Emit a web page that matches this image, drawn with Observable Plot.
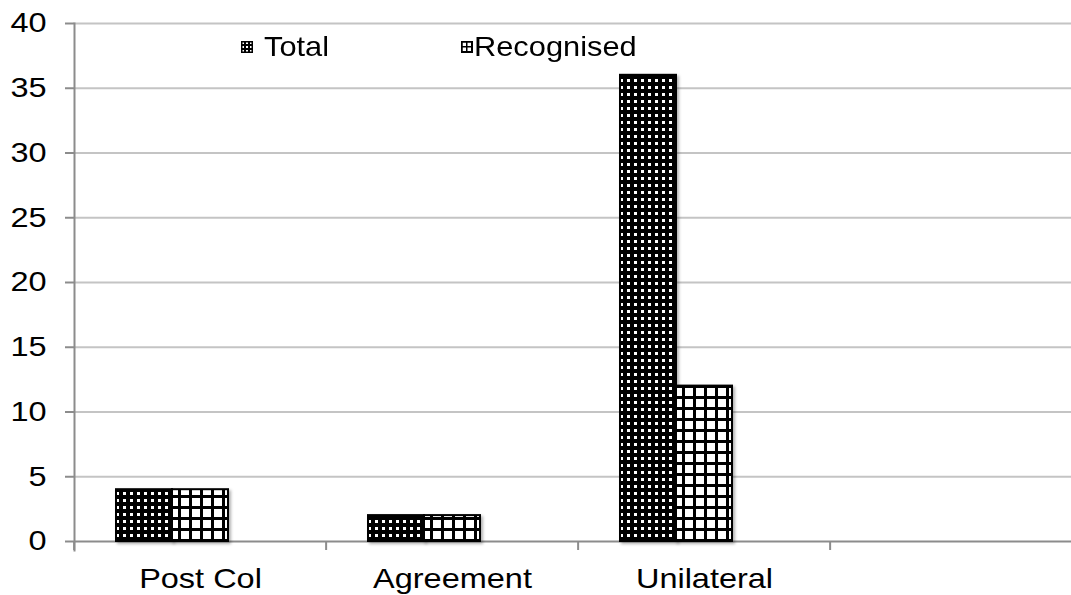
<!DOCTYPE html>
<html>
<head>
<meta charset="utf-8">
<script src="https://cdn.jsdelivr.net/npm/d3@7"></script>
<script src="https://cdn.jsdelivr.net/npm/@observablehq/plot@0.6"></script>
<style>
  html, body { margin: 0; padding: 0; background: #fff; overflow: hidden; }
  #wrap { position: relative; width: 1071px; height: 595px; }
  .legend-item { position: absolute; font: 28px "Liberation Sans", Arial, sans-serif; color: #000; line-height: 1; white-space: nowrap; }
  .legend-item svg { position: absolute; }
  .legend-item span { display: inline-block; transform: scaleX(1.1); transform-origin: left center; }
  .bar-shadow { filter: drop-shadow(2px 2px 1.5px rgba(0,0,0,0.3)); }
</style>
</head>
<body>
<div id="wrap"></div>
<script>
// ---- data ----
const categories = ["Post Col", "Agreement", "Unilateral", " "];
const seriesNames = ["Total", "Recognised"];
const totalValues = [4, 2, 36];
const recognisedValues = [4, 2, 12];
const yTicks = [0, 5, 10, 15, 20, 25, 30, 35, 40];

const patternIds = { Total: "pat-total", Recognised: "pat-recog" };
const seriesValues = { Total: totalValues, Recognised: recognisedValues };

const rows = [];
categories.forEach((c, i) => {
  seriesNames.forEach(s => {
    const v = seriesValues[s][i];
    if (v != null) rows.push({ category: c, series: s, value: v });
  });
});

// ---- layout ----
const W = 1071, H = 595;
const mL = 72, mR = -12, mT = 23, mB = 54;
const step = (W - mL - mR) / categories.length;
const axisGray = "#8c8c8c";
const gridGray = "#c4c4c4";
const font = '"Liberation Sans", Arial, sans-serif';
const textStretch = 1.16;

const barMarks = seriesNames.map(s =>
  Plot.barY(rows.filter(d => d.series === s), {
    fx: "category", x: "series", y: "value",
    fill: `url(#${patternIds[s]})`,
    stroke: "black", strokeWidth: 2,
    className: "bar-shadow"
  })
);

const plot = Plot.plot({
  width: W, height: H,
  marginLeft: mL, marginRight: mR, marginTop: mT, marginBottom: mB,
  style: { fontFamily: font, fontSize: "28px", background: "white", color: "black", overflow: "visible" },
  fx: { domain: categories, padding: 0, label: null },
  x: { domain: seriesNames, paddingInner: 0, paddingOuter: 1.236, align: 0.3, axis: null },
  y: { domain: [0, 40], label: null },
  marks: [
    Plot.gridY(yTicks.slice(1), { stroke: gridGray, strokeOpacity: 1, strokeWidth: 2 }),
    Plot.ruleY(categories, { fx: d => d, y: () => 0, stroke: axisGray, strokeWidth: 2 }),
    Plot.frame({ anchor: "left", facetAnchor: "left", stroke: axisGray, strokeWidth: 2, insetBottom: -9 }),
    ...barMarks,
    Plot.axisY(yTicks, { tickSize: 9, tickPadding: 19, stroke: axisGray, strokeWidth: 2, fill: "black", fontSize: 28, label: null }),
    Plot.axisFx({ anchor: "bottom", tickSize: 0, tickPadding: 27, fontSize: 28, fill: "black", label: null }),
    Plot.axisFx({ anchor: "bottom", tickSize: 9, tickFormat: () => "", stroke: axisGray, strokeWidth: 2, dx: -step / 2, label: null })
  ]
});

const svgEl = plot.tagName.toLowerCase() === "svg" ? plot : plot.querySelector("svg");
const svg = d3.select(svgEl);

// widen the glyphs slightly (reference uses a wider sans face)
svg.selectAll("text").each(function () {
  const t = this.getAttribute("transform") || "";
  this.setAttribute("transform", (t + ` scale(${textStretch},1)`).trim());
});

// patterns
const defs = svg.insert("defs", ":first-child");
const pt = defs.append("pattern").attr("id", "pat-total").attr("patternUnits", "userSpaceOnUse").attr("width", 7).attr("height", 7);
pt.append("rect").attr("width", 7).attr("height", 7).attr("fill", "black");
pt.append("rect").attr("x", 2).attr("y", 2).attr("width", 3).attr("height", 3).attr("fill", "white");
const pr = defs.append("pattern").attr("id", "pat-recog").attr("patternUnits", "userSpaceOnUse").attr("width", 11).attr("height", 11);
pr.append("rect").attr("width", 11).attr("height", 11).attr("fill", "white");
pr.append("rect").attr("width", 11).attr("height", 3).attr("fill", "black");
pr.append("rect").attr("width", 3).attr("height", 11).attr("fill", "black");
const lt = defs.append("pattern").attr("id", "pat-total-s").attr("patternUnits", "userSpaceOnUse").attr("width", 4).attr("height", 4);
lt.append("rect").attr("width", 4).attr("height", 4).attr("fill", "black");
lt.append("rect").attr("x", 1).attr("y", 1).attr("width", 2).attr("height", 2).attr("fill", "white");
const lr = defs.append("pattern").attr("id", "pat-recog-s").attr("patternUnits", "userSpaceOnUse").attr("width", 5).attr("height", 5);
lr.append("rect").attr("width", 5).attr("height", 5).attr("fill", "white");
lr.append("rect").attr("width", 5).attr("height", 1.5).attr("fill", "black");
lr.append("rect").attr("width", 1.5).attr("height", 5).attr("fill", "black");

const wrap = document.getElementById("wrap");
wrap.appendChild(plot);

// legend (HTML overlay inside the plot area)
const legendPos = { Total: { sx: 241, tx: 264 }, Recognised: { sx: 461, tx: 474 } };
const legendPat = { Total: "pat-total-s", Recognised: "pat-recog-s" };
seriesNames.forEach(s => {
  const item = document.createElement("div");
  item.className = "legend-item";
  item.style.left = legendPos[s].sx + "px";
  item.style.top = "33px";
  item.innerHTML = `<svg width="12" height="12" style="left:0;top:8px"><rect x="0.75" y="0.75" width="10.5" height="10.5" fill="url(#${legendPat[s]})" stroke="black" stroke-width="1.5"/></svg><span style="position:absolute;left:${legendPos[s].tx - legendPos[s].sx}px;top:0">${s}</span>`;
  wrap.appendChild(item);
});
</script>
</body>
</html>
